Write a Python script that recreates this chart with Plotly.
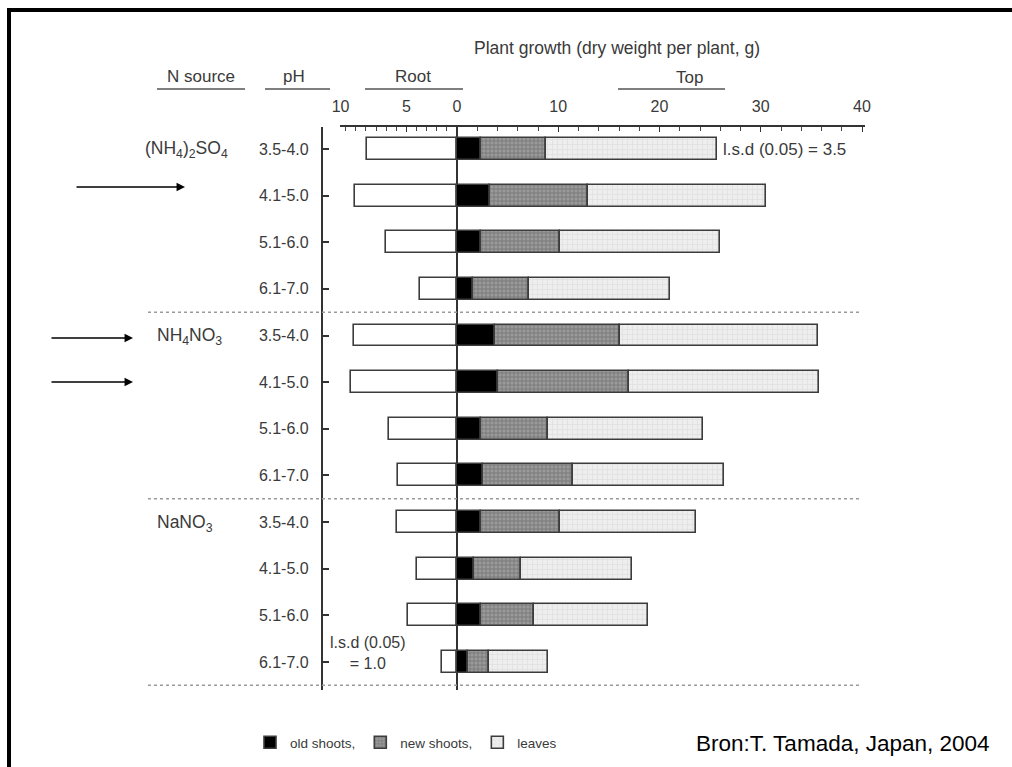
import plotly.graph_objects as go

W, H = 1012, 767

# ---------------- data ----------------
n_sources = ["(NH<sub>4</sub>)<sub>2</sub>SO<sub>4</sub>", "NH<sub>4</sub>NO<sub>3</sub>", "NaNO<sub>3</sub>"]
ph_labels = ["3.5-4.0", "4.1-5.0", "5.1-6.0", "6.1-7.0"] * 3
rows = list(range(12))

root = [8.9, 10.1, 7.0, 3.7, 10.2, 10.5, 6.7, 5.8, 5.9, 4.0, 4.8, 1.5]
old_shoots = [2.4, 3.3, 2.4, 1.6, 3.8, 4.0, 2.4, 2.6, 2.4, 1.7, 2.4, 1.1]
new_shoots = [6.4, 9.6, 7.8, 5.5, 12.3, 13.0, 6.6, 8.9, 7.8, 4.6, 5.2, 2.1]
leaves = [16.9, 17.6, 15.8, 13.9, 19.6, 18.8, 15.3, 14.9, 13.4, 11.0, 11.3, 5.8]

x_tickvals = [-11.5, -5, 0, 10, 20, 30, 40]
x_ticktext = ["10", "5", "0", "10", "20", "30", "40"]
minor_vals = [-11, -10, -9, -8, -7, -6, -5, -4, -3, -2, -1] + list(range(2, 41, 2))

# ---------------- helpers ----------------
def px(x):
    return x / W


def py(y):
    return 1 - y / H


FONT = "Liberation Sans Narrow, Arial Narrow, Liberation Sans, Arial, sans-serif"
TXT = "#3a3a3a"
EDGE = "#3c3c3c"

fig = go.Figure()

fig.add_trace(go.Bar(
    y=rows, x=[-v for v in root], orientation="h", width=0.47,
    marker=dict(color="white", line=dict(color=EDGE, width=1.6)),
    showlegend=False, name="root"))
fig.add_trace(go.Bar(
    y=rows, x=old_shoots, orientation="h", width=0.47,
    marker=dict(color="black", line=dict(color=EDGE, width=1.6)),
    name="old shoots,"))
fig.add_trace(go.Bar(
    y=rows, x=new_shoots, orientation="h", width=0.47,
    marker=dict(color="#8a8a8a", line=dict(color=EDGE, width=1.6),
                pattern=dict(shape="+", bgcolor="#9a9a9a", fgcolor="#4a4a4a",
                             size=4, solidity=0.35)),
    name="new shoots,"))
fig.add_trace(go.Bar(
    y=rows, x=leaves, orientation="h", width=0.47,
    marker=dict(color="#ececec", line=dict(color=EDGE, width=1.6),
                pattern=dict(shape="+", bgcolor="#eeeeee", fgcolor="#d2d2d2",
                             size=5, solidity=0.3)),
    name="leaves"))

# plot area: x from 340 to 865 px, y from 127 to 690 px
x0_px, x1_px = 340, 865
zero_px, ppu = 457, 10.125
xr = [(x0_px - zero_px) / ppu, (x1_px - zero_px) / ppu]

fig.update_layout(
    width=W, height=H,
    margin=dict(l=0, r=0, t=0, b=0, pad=0, autoexpand=False),
    paper_bgcolor="white", plot_bgcolor="white",
    barmode="relative", bargap=0,
    font=dict(family=FONT, size=15, color=TXT),
    xaxis=dict(domain=[px(x0_px), px(x1_px)], range=xr, side="top",
               showline=True, linecolor="#333", linewidth=1.5,
               tickmode="array", tickvals=x_tickvals, ticktext=x_ticktext,
               ticks="inside", ticklen=5, tickwidth=1.3, tickcolor="#333",
               ticklabelstandoff=7, automargin=False,
               minor=dict(tickmode="array", tickvals=minor_vals, ticks="inside",
                          ticklen=4, tickwidth=1, tickcolor="#444"),
               showgrid=False, zeroline=True, zerolinecolor="#333", zerolinewidth=1.5,
               tickfont=dict(size=16, color=TXT, family=FONT), fixedrange=True),
    yaxis=dict(domain=[py(690), py(127)], range=[11.6, -0.47],
               anchor="free", position=px(322), automargin=False,
               showline=True, linecolor="#333", linewidth=2.2,
               tickmode="array", tickvals=rows, ticktext=ph_labels,
               ticks="inside", ticklen=6, tickwidth=2, tickcolor="#333",
               ticklabelstandoff=9,
               showgrid=False, zeroline=False,
               tickfont=dict(size=16, color=TXT, family=FONT), fixedrange=True),
    legend=dict(orientation="h", x=px(250), y=py(727), xanchor="left", yanchor="top",
                font=dict(size=13.5, color=TXT, family=FONT), bgcolor="rgba(0,0,0,0)",
                itemwidth=30, tracegroupgap=0),
    showlegend=True,
)

shapes = []
# frame
shapes.append(dict(type="path", xref="paper", yref="paper",
                   path=f"M {px(9)},0 L {px(9)},{py(10)} L 1,{py(10)}",
                   line=dict(color="black", width=4)))
# separators
for ysep in [3.5, 7.5, 11.5]:
    shapes.append(dict(type="line", xref="paper", yref="y", x0=px(148), x1=px(862),
                       y0=ysep, y1=ysep, line=dict(color="#9a9a9a", width=1.5, dash="dot")))
# header underlines
for a, b in [(157, 245), (265, 330), (365, 463), (618, 725)]:
    shapes.append(dict(type="line", xref="paper", yref="paper", x0=px(a), x1=px(b),
                       y0=py(89), y1=py(89), line=dict(color="#555", width=1.5)))
fig.update_layout(shapes=shapes)

ann = []


def text(x, y, s, size=15, xanchor="center", color=TXT, family=FONT, align="center"):
    ann.append(dict(x=px(x), y=py(y), xref="paper", yref="paper", text=s, showarrow=False,
                    xanchor=xanchor, yanchor="middle", align=align,
                    font=dict(size=size, color=color, family=family)))


text(617, 48, "Plant growth (dry weight per plant, g)", size=17.5)
text(201, 76, "N source", size=17)
text(294, 76, "pH", size=17)
text(413, 76, "Root", size=17)
text(689, 78, "Top", size=17)
text(143, 149, n_sources[0], xanchor="left", size=17.5)
text(155, 336, n_sources[1], xanchor="left", size=17.5)
text(155, 523, n_sources[2], xanchor="left", size=17.5)
text(721, 149, "l.s.d (0.05) = 3.5", xanchor="left", size=17)
text(368, 653, "l.s.d (0.05)<br>= 1.0", align="center", size=16)
text(843, 743, "Bron:T. Tamada, Japan, 2004", size=22.5, color="black",
     family="Liberation Sans, Arial, sans-serif")

# arrows
for (xs, xe, ya) in [(75, 185, 187), (50, 133, 338), (50, 133, 382)]:
    ann.append(dict(x=px(xe), y=py(ya), xref="paper", yref="paper",
                    ax=-(xe - xs), ay=0, axref="pixel", ayref="pixel",
                    text="", showarrow=True, arrowhead=2, arrowsize=1.3,
                    arrowwidth=1.3, arrowcolor="black"))

fig.update_layout(annotations=ann)

fig.write_html("out.html")
